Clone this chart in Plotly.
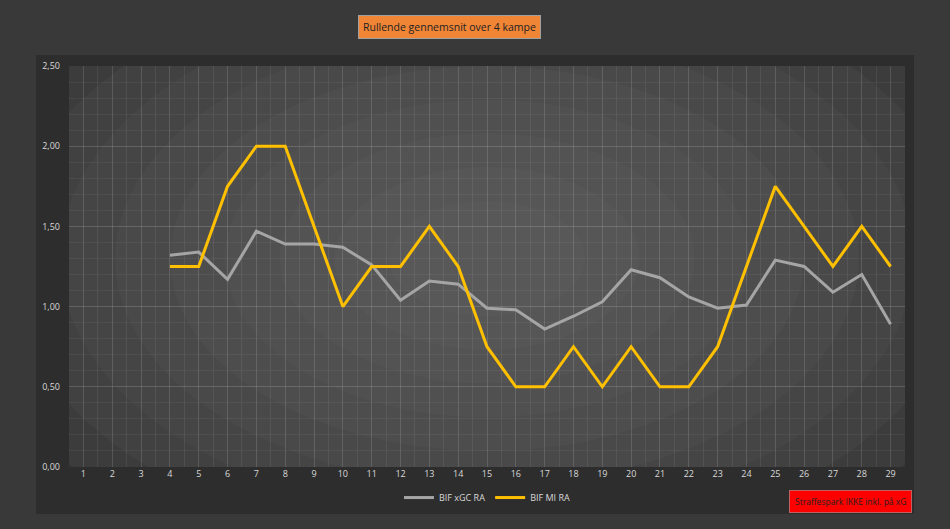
import plotly.graph_objects as go

rounds = list(range(1, 30))
xgc_ra = [None, None, None, 1.32, 1.34, 1.17, 1.47, 1.39, 1.39, 1.37, 1.26, 1.04, 1.16, 1.14,
          0.99, 0.98, 0.86, 0.94, 1.03, 1.23, 1.18, 1.06, 0.99, 1.01, 1.29, 1.25, 1.09, 1.20, 0.89]
mi_ra = [None, None, None, 1.25, 1.25, 1.75, 2.00, 2.00, 1.50, 1.00, 1.25, 1.25, 1.50, 1.25,
         0.75, 0.50, 0.50, 0.75, 0.50, 0.75, 0.50, 0.50, 0.75, 1.25, 1.75, 1.50, 1.25, 1.50, 1.25]
y_ticks = [0, 0.5, 1.0, 1.5, 2.0, 2.5]

fig = go.Figure()
fig.add_trace(go.Scatter(x=rounds, y=xgc_ra, mode="lines", name="BIF xGC RA",
                         line=dict(color="#a5a5a5", width=3)))
fig.add_trace(go.Scatter(x=rounds, y=mi_ra, mode="lines", name="BIF MI RA",
                         line=dict(color="#ffc000", width=3)))

shapes = []
# chart area panel (paper coords)
shapes.append(dict(type="rect", xref="paper", yref="paper", layer="below",
                   x0=-33/836, x1=(914-69)/836, y0=-(514-467)/401, y1=(467-55)/401,
                   fillcolor="#2d2d2d", line=dict(width=0)))
shapes.append(dict(type="rect", xref="paper", yref="paper", layer="below",
                   x0=0, x1=1, y0=0, y1=1, fillcolor="#313131", line=dict(width=0)))
# radial-ish gradient for plot area (clipped to plot area via data refs)
xmin, xmax = 0.5, 29.5
ymin, ymax = 0.0, 2.5
cx, cy = 15.0, 1.3
n = 10
for i in range(n):
    f = i / n
    hw = 19.0 * (1 - f) + 1.5
    hh = 2.1 * (1 - f) + 0.15
    shapes.append(dict(type="circle", xref="x", yref="y", layer="below",
                       x0=cx - hw, x1=cx + hw, y0=cy - hh, y1=cy + hh,
                       fillcolor="#707070", opacity=0.095, line=dict(width=0)))

fig.update_layout(
    width=950, height=529,
    paper_bgcolor="#393939",
    plot_bgcolor="rgba(0,0,0,0)",
    margin=dict(l=69, r=45, t=66, b=62),
    font=dict(family="Open Sans", color="#d9d9d9", size=9),
    separators=",.",
    shapes=shapes,
    showlegend=True,
    legend=dict(orientation="h", x=0.5, xanchor="center", y=-0.04, yanchor="top",
                bgcolor="rgba(0,0,0,0)", font=dict(size=9, color="#d9d9d9"),
                itemwidth=30),
    annotations=[
        dict(text="Rullende gennemsnit over 4 kampe", xref="paper", yref="paper",
             x=(449 - 69) / 836, y=(467 - 27) / 401, xanchor="center", yanchor="middle",
             showarrow=False, bgcolor="#f08536", bordercolor="#a0a0a0", borderwidth=1,
             borderpad=4, font=dict(size=10.5, color="#222222")),
        dict(text="Straffespark IKKE inkl. på xG", xref="paper", yref="paper",
             x=(850 - 69) / 836, y=(467 - 501) / 401, xanchor="center", yanchor="middle",
             showarrow=False, bgcolor="#ff0000", bordercolor="#c06060", borderwidth=1,
             borderpad=5, font=dict(size=8.5, color="#222222")),
    ],
)
fig.update_xaxes(range=[xmin, xmax], tickvals=rounds, ticktext=[str(r) for r in rounds],
                 showgrid=True, gridcolor="rgba(255,255,255,0.07)", zeroline=False,
                 showline=False, ticks="", tickfont=dict(size=9, color="#d9d9d9"),
                 minor=dict(tick0=0.5, dtick=0.5, showgrid=True,
                            gridcolor="rgba(255,255,255,0.07)"))
fig.update_yaxes(range=[ymin, ymax], tickvals=y_ticks, tickformat=".2f",
                 showgrid=True, gridcolor="rgba(255,255,255,0.11)", zeroline=False,
                 showline=False, ticks="", ticklabelstandoff=8,
                 tickfont=dict(size=9, color="#d9d9d9"),
                 minor=dict(dtick=0.1, showgrid=True, gridcolor="rgba(255,255,255,0.05)"))

fig.write_html("out.html")
